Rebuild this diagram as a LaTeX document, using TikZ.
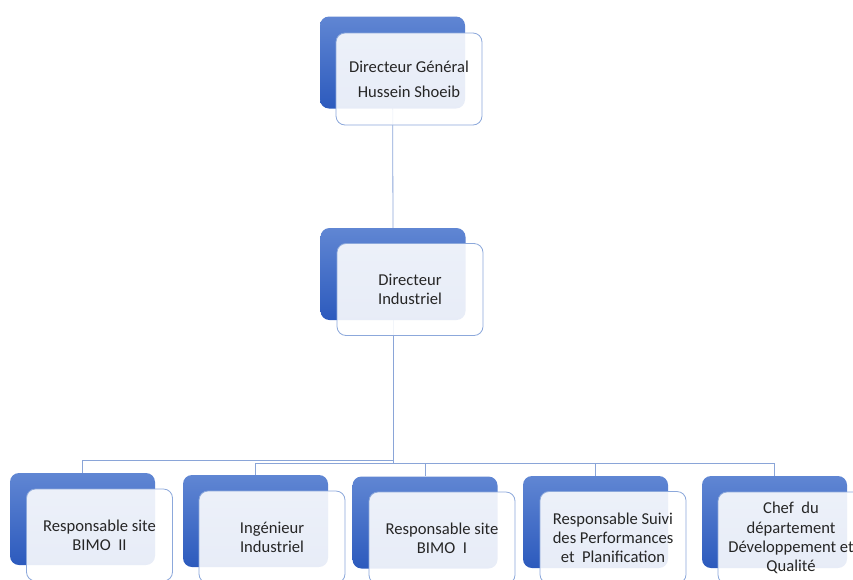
\documentclass[tikz,border=0pt]{standalone}
\usepackage{fontspec}
\setmainfont{Carlito}
\usepackage{tikz}
\usetikzlibrary{backgrounds}

\definecolor{backtop}{HTML}{6086D3}
\definecolor{backbot}{HTML}{2C5ABD}
\definecolor{frontline}{HTML}{8CA8DB}
\definecolor{linkblue}{HTML}{8AA5D8}
\definecolor{inktext}{HTML}{262626}

\begin{document}
\begin{tikzpicture}[
  x=1pt, y=-1pt,
  backbox/.style={rectangle, rounded corners=9pt, draw=none,
                  top color=backtop, bottom color=backbot,
                  minimum width=145pt, minimum height=92pt},
  frontbox/.style={rectangle, rounded corners=9pt, draw=frontline, line width=0.8pt,
                   fill=white, fill opacity=0.89, text opacity=1, text=inktext,
                   minimum width=146pt, minimum height=92pt, align=center,
                   font=\fontsize{16.6}{19.2}\selectfont},
  link/.style={draw=linkblue, line width=0.8pt},
]
\useasboundingbox (0,0) rectangle (853,579);
\clip (0,0) rectangle (853,579);

%% TOP: Directeur General
\node[backbox]  (dgb) at (392.5, 62.5) {};
\node[frontbox] (dg)  at (409, 79)
  {Directeur Général\\[6pt]Hussein Shoeib};

%% MIDDLE: Directeur Industriel
\node[backbox]  (dib) at (393, 274) {};
\node[frontbox] (di)  at (410, 289.5) {Directeur\\Industriel};

%% BOTTOM ROW
\node[backbox]  (b1b) at (82.5, 519) {};
\node[frontbox] (b1)  at (99.5, 535) {Responsable site\\BIMO\ \ II};

\node[backbox]  (b2b) at (255.5, 521) {};
\node[frontbox] (b2)  at (272, 537) {Ingénieur\\Industriel};

\node[backbox]  (b3b) at (425, 522.5) {};
\node[frontbox] (b3)  at (442, 538) {Responsable site\\BIMO\ \ I};

\node[backbox]  (b4b) at (595.5, 522) {};
\node[frontbox] (b4)  at (613, 537.5) {Responsable Suivi\\des Performances\\et\ \ Planification};

\node[backbox]  (b5b) at (774.5, 522) {};
\node[frontbox] (b5)  at (791, 538) {Chef\ \ du\\département\\Développement et\\Qualité};

%% CONNECTORS (behind the boxes)
\begin{scope}[on background layer]
  \coordinate (busl) at (393, 460);
  \coordinate (busr) at (393, 463);
  \draw[link] (dgb.center) -- (dib.north);
  \draw[link] (dib.center) -- (busr);
  \draw[link] (busl) -| (b1b.north);
  \draw[link] (busr) -| (b2b.north);
  \draw[link] (busr) -| (b3b.north);
  \draw[link] (busr) -| (b4b.north);
  \draw[link] (busr) -| (b5b.north);
\end{scope}

\end{tikzpicture}
\end{document}
